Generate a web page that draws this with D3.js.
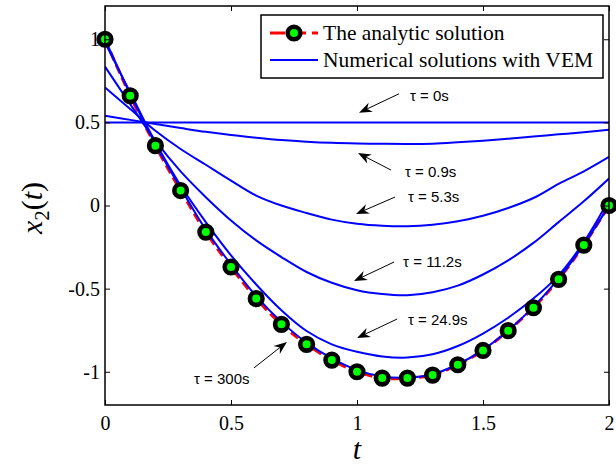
<!DOCTYPE html>
<html><head><meta charset="utf-8">
<script src="https://cdn.jsdelivr.net/npm/d3@7"></script>
<style>body{margin:0;background:#fff} .tk text{font-family:'Liberation Serif','Times New Roman',serif !important;}</style>
</head><body>
<svg id="c" width="616" height="468"></svg>
<script>
const tValues = [0,0.1,0.2,0.3,0.4,0.5,0.6,0.7,0.8,0.9,1.0,1.1,1.2,1.3,1.4,1.5,1.6,1.7,1.8,1.9,2.0];
const analytic = [1.0,0.66,0.36,0.09,-0.16,-0.37,-0.56,-0.715,-0.835,-0.93,-1.0,-1.038,-1.038,-1.02,-0.958,-0.872,-0.753,-0.615,-0.444,-0.238,0.0];
const tau0   = [0.5,0.5,0.5,0.5,0.5,0.5,0.5,0.5,0.5,0.5,0.5,0.5,0.5,0.5,0.5,0.5,0.5,0.5,0.5,0.5,0.5];
const tau09  = [0.54,0.515,0.49,0.466,0.443,0.424,0.408,0.394,0.384,0.377,0.373,0.371,0.37,0.372,0.38,0.39,0.402,0.415,0.428,0.441,0.455];
const tau53  = [0.71,0.58,0.45,0.34,0.245,0.15,0.06,0.0,-0.045,-0.085,-0.11,-0.122,-0.125,-0.116,-0.095,-0.062,-0.015,0.045,0.13,0.205,0.292];
const tau112 = [0.835,0.61,0.39,0.205,0.05,-0.09,-0.21,-0.31,-0.4,-0.465,-0.51,-0.533,-0.54,-0.522,-0.482,-0.415,-0.33,-0.225,-0.1,0.025,0.162];
const tau249 = [0.98,0.68,0.38,0.12,-0.1,-0.3,-0.475,-0.63,-0.755,-0.835,-0.88,-0.908,-0.915,-0.895,-0.845,-0.77,-0.675,-0.56,-0.42,-0.22,0.035];
const tau300 = [1.0,0.67,0.37,0.105,-0.145,-0.355,-0.545,-0.7,-0.825,-0.92,-0.99,-1.028,-1.035,-1.015,-0.955,-0.868,-0.752,-0.61,-0.44,-0.235,0.0];
const numericalSeries = [tau0, tau09, tau53, tau112, tau249, tau300];

const xTicks = [0,0.5,1,1.5,2];
const xTickLabels = ["0","0.5","1","1.5","2"];
const yTicks = [-1,-0.5,0,0.5,1];
const yTickLabels = ["-1","-0.5","0","0.5","1"];

const legendLabels = ["The analytic solution","Numerical solutions with VEM"];

// annotation labels with arrow tail/head and text anchor in data coordinates (t, x2)
const annLabels = ["τ = 0s","τ = 0.9s","τ = 5.3s","τ = 11.2s","τ = 24.9s","τ = 300s"];
const annTail = [[1.167,0.672],[1.135,0.213],[1.151,0.051],[1.147,-0.34],[1.159,-0.683],[0.591,-0.977]];
const annHead = [[1.008,0.558],[1.004,0.316],[0.996,-0.051],[0.988,-0.454],[1.0,-0.797],[0.722,-0.821]];
const annText = [[1.21,0.63],[1.19,0.17],[1.202,0.021],[1.183,-0.37],[1.202,-0.718],[0.353,-1.074]];

const svg = d3.select("#c");
const x = d3.scaleLinear().domain([0,2]).range([105,609]);
const y = d3.scaleLinear().domain([-1.2,1.2]).range([405,6]);
const serif = "'Liberation Serif','Times New Roman',serif";
const sans = "'Liberation Sans',Arial,Helvetica,sans-serif";

svg.append("rect").attr("width",616).attr("height",468).attr("fill","#fff");

svg.append("clipPath").attr("id","clip").append("rect")
  .attr("x",105).attr("y",6).attr("width",504).attr("height",399);

const plot = svg.append("g").attr("clip-path","url(#clip)");
const line = d3.line().x((d,i)=>x(tValues[i])).y(d=>y(d)).curve(d3.curveCatmullRom.alpha(0.5));

// analytic
plot.append("path").datum(analytic).attr("d",line)
  .attr("fill","none").attr("stroke","#ff0000").attr("stroke-width",3)
  .attr("stroke-dasharray","9,5");
svg.append("g").selectAll("circle").data(analytic).join("circle")
  .attr("cx",(d,i)=>x(tValues[i])).attr("cy",d=>y(d)).attr("r",6.3)
  .attr("fill","#00ff00").attr("stroke","#000").attr("stroke-width",4.6);

// numerical
plot.selectAll("path.num").data(numericalSeries).join("path").attr("class","num")
  .attr("d",line).attr("fill","none").attr("stroke","#0000ff").attr("stroke-width",2);

// axes
const fmtX = (d)=>xTickLabels[xTicks.indexOf(d)];
const fmtY = (d)=>yTickLabels[yTicks.indexOf(d)];
const gx = svg.append("g").attr("transform","translate(0,405)")
  .call(d3.axisBottom(x).tickValues(xTicks).tickFormat(fmtX).tickSizeInner(-5).tickSizeOuter(0).tickPadding(11));
const gy = svg.append("g").attr("transform","translate(105,0)")
  .call(d3.axisLeft(y).tickValues(yTicks).tickFormat(fmtY).tickSizeInner(-5).tickSizeOuter(0).tickPadding(5));
const gt = svg.append("g").attr("transform","translate(0,6)")
  .call(d3.axisTop(x).tickValues(xTicks).tickFormat("").tickSizeInner(-5).tickSizeOuter(0));
const gr = svg.append("g").attr("transform","translate(609,0)")
  .call(d3.axisRight(y).tickValues(yTicks).tickFormat("").tickSizeInner(-5).tickSizeOuter(0));
[gx,gy,gt,gr].forEach(g=>{
  g.attr("class","tk").attr("font-family",serif).attr("font-size",20);
  g.select(".domain").remove();
  g.selectAll(".tick line").attr("stroke","#000").attr("stroke-width",1);
  g.selectAll("text").style("font-size","20px").attr("fill","#000");
});
svg.append("rect").attr("x",105).attr("y",6).attr("width",504).attr("height",399)
  .attr("fill","none").attr("stroke","#000").attr("stroke-width",1.5);

// axis labels
svg.append("text").attr("x",357).attr("y",459).attr("text-anchor","middle")
  .attr("font-family",serif).attr("font-size",30).attr("font-style","italic").text("t");
const yl = svg.append("text").attr("transform","translate(42,208) rotate(-90)")
  .attr("text-anchor","middle").attr("font-family",serif).attr("font-size",30);
yl.append("tspan").attr("font-style","italic").text("x");
yl.append("tspan").attr("font-size",21).attr("dy",7).text("2");
yl.append("tspan").attr("dy",-7).text("(");
yl.append("tspan").attr("font-style","italic").text("t");
yl.append("tspan").text(")");

// annotations
const ann = svg.append("g");
annLabels.forEach((lab,i)=>{
  const x1 = x(annTail[i][0]), y1 = y(annTail[i][1]);
  const x2 = x(annHead[i][0]), y2 = y(annHead[i][1]);
  const ang = Math.atan2(y2-y1, x2-x1);
  const L = 13, W = 5, N = 9;
  const ux = Math.cos(ang), uy = Math.sin(ang);
  const px = -uy, py = ux;
  const bx = x2 - ux*L, by = y2 - uy*L;
  const nx = x2 - ux*N, ny = y2 - uy*N;
  ann.append("line").attr("x1",x1).attr("y1",y1).attr("x2",nx).attr("y2",ny)
    .attr("stroke","#000").attr("stroke-width",1);
  ann.append("path").attr("d",`M${x2},${y2}L${bx+px*W},${by+py*W}L${nx},${ny}L${bx-px*W},${by-py*W}Z`)
    .attr("fill","#000");
  ann.append("text").attr("x",x(annText[i][0])).attr("y",y(annText[i][1]))
    .attr("font-family",sans).attr("font-size",15).attr("fill","#000").text(lab);
});

// legend
const lg = svg.append("g");
lg.append("rect").attr("x",261).attr("y",15).attr("width",342).attr("height",63)
  .attr("fill","#fff").attr("stroke","#000").attr("stroke-width",1.5);
lg.append("line").attr("x1",270).attr("x2",318).attr("y1",33).attr("y2",33)
  .attr("stroke","#ff0000").attr("stroke-width",3).attr("stroke-dasharray","15,6");
lg.append("circle").attr("cx",294).attr("cy",33).attr("r",6.3)
  .attr("fill","#00ff00").attr("stroke","#000").attr("stroke-width",4.6);
lg.append("line").attr("x1",270).attr("x2",318).attr("y1",60).attr("y2",60)
  .attr("stroke","#0000ff").attr("stroke-width",2);
lg.selectAll("text").data(legendLabels).join("text")
  .attr("x",323).attr("y",(d,i)=>40+i*27)
  .attr("font-family",serif).attr("font-size",21.5).attr("fill","#000").text(d=>d);
</script>
</body></html>
